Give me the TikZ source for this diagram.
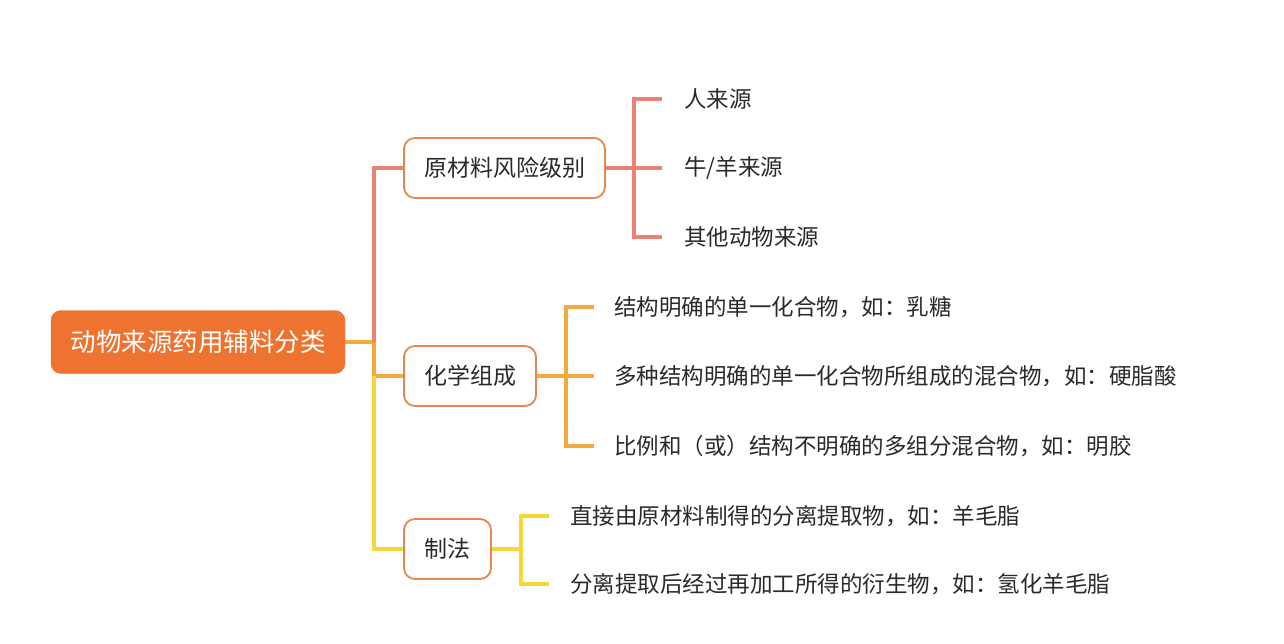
\documentclass[tikz,border=0pt]{standalone}
\usepackage{fontspec}
\setmainfont{Noto Sans CJK SC}
\definecolor{rootfill}{HTML}{EE7331}
\definecolor{boxline}{HTML}{E5874E}
\definecolor{cA}{HTML}{EC8276}
\definecolor{cB}{HTML}{F2AA3C}
\definecolor{cC}{HTML}{F6D63A}
\definecolor{txt}{HTML}{2A2A2A}
\begin{document}
\begin{tikzpicture}[x=1pt,y=-1pt,
  rootbox/.style={draw=rootfill,fill=rootfill,rounded corners=10pt,minimum width=294pt,minimum height=63pt,text=white,font=\fontsize{25.5}{30}\selectfont,inner sep=0pt},
  midbox/.style={draw=boxline,line width=1.8pt,fill=white,rounded corners=11pt,minimum height=60pt,text=txt,font=\fontsize{23}{27}\selectfont,inner sep=0pt},
  leaf/.style={anchor=west,text=txt,font=\fontsize{22.5}{27}\selectfont,inner sep=0pt},
  conn/.style={line width=3.4pt}
]
\useasboundingbox (0,0) rectangle (1284,644);
\fill[white] (0,0) rectangle (1284,644);

\node[rootbox] (root) at (198,342) {动物来源药用辅料分类};

\node[midbox,minimum width=201pt] (b1) at (504.5,168) {原材料风险级别};
\node[midbox,minimum width=132pt] (b2) at (470,376) {化学组成};
\node[midbox,minimum width=87pt] (b3) at (447.5,549) {制法};

\coordinate (t0) at (374,342);
\coordinate (t1) at (374,168);
\coordinate (t2) at (374,376);
\coordinate (t3) at (374,549);

% trunk
\draw[conn,cB] (root.east) -- (t0);
\draw[conn,cA] (t0) -- (t1) -- (b1.west);
\draw[conn,cB] (t0) -- (t2) -- (b2.west);
\draw[conn,cC] (t2) -- (t3) -- (b3.west);

% leaves branch 1
\node[leaf] (a1) at (684,99) {人来源};
\node[leaf] (a2) at (684,168) {牛/羊来源};
\node[leaf] (a3) at (684,237) {其他动物来源};
\coordinate (j1) at (634,168);
\draw[conn,cA] (b1.east) -- (j1);
\draw[conn,cA] ([xshift=-22pt]a1.west) -| (j1) |- ([xshift=-22pt]a3.west);
\draw[conn,cA] (j1) -- ([xshift=-22pt]a2.west);

% leaves branch 2
\node[leaf] (m1) at (614,307) {结构明确的单一化合物，如：乳糖};
\node[leaf] (m2) at (614,376) {多种结构明确的单一化合物所组成的混合物，如：硬脂酸};
\node[leaf] (m3) at (614,446) {比例和（或）结构不明确的多组分混合物，如：明胶};
\coordinate (j2) at (566,376);
\draw[conn,cB] (b2.east) -- (j2);
\draw[conn,cB] ([xshift=-20pt]m1.west) -| (j2) |- ([xshift=-20pt]m3.west);
\draw[conn,cB] (j2) -- ([xshift=-20pt]m2.west);

% leaves branch 3
\node[leaf] (p1) at (570,516) {直接由原材料制得的分离提取物，如：羊毛脂};
\node[leaf] (p2) at (570,584) {分离提取后经过再加工所得的衍生物，如：氢化羊毛脂};
\coordinate (j3) at (521,549);
\draw[conn,cC] (b3.east) -- (j3);
\draw[conn,cC] ([xshift=-21pt]p1.west) -| (j3) |- ([xshift=-21pt]p2.west);
\end{tikzpicture}
\end{document}
